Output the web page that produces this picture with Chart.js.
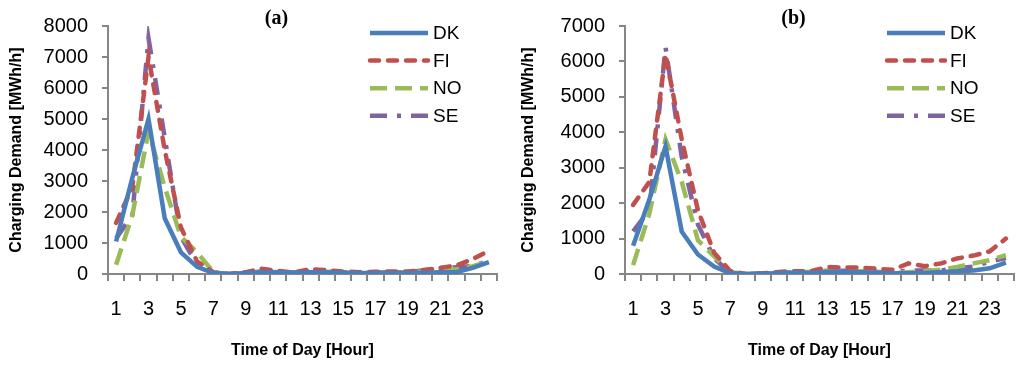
<!DOCTYPE html>
<html>
<head>
<meta charset="utf-8">
<script src="https://cdn.jsdelivr.net/npm/chart.js@4.4.1/dist/chart.umd.min.js"></script>
<style>
  html, body { margin: 0; padding: 0; background: #fff; }
  .wrap { display: flex; width: 1024px; height: 368px; }
  .panel { width: 512px; height: 368px; position: relative; }
</style>
</head>
<body>
<div class="wrap">
  <div class="panel"><canvas id="chart-a" width="512" height="368"></canvas></div>
  <div class="panel"><canvas id="chart-b" width="512" height="368"></canvas></div>
</div>
<script>
/* hourly charging demand, MWh/h */
const HOURS = ["1","2","3","4","5","6","7","8","9","10","11","12",
               "13","14","15","16","17","18","19","20","21","22","23","24"];
const COUNTRIES = ["DK", "FI", "NO", "SE"];

// (a)
const DK_A = [1050, 3100, 5000, 1800, 700, 230, 30, 0, 30, 60, 60, 40, 60, 60, 40, 30, 30, 30, 30, 40, 60, 60, 200, 380];
const FI_A = [1650, 2800, 7000, 4000, 1500, 400, 60, 0, 60, 170, 100, 50, 160, 120, 80, 60, 70, 80, 80, 130, 200, 280, 480, 750];
const NO_A = [300, 1900, 4600, 2800, 1200, 700, 60, 0, 30, 70, 60, 40, 80, 70, 40, 30, 40, 30, 50, 80, 100, 150, 250, 400];
const SE_A = [1150, 1900, 7600, 4400, 1200, 300, 30, 0, 30, 80, 60, 50, 80, 80, 60, 40, 50, 50, 60, 120, 170, 220, 260, 430];

// (b)
const DK_B = [800, 2100, 3600, 1200, 550, 210, 20, 0, 10, 30, 40, 30, 60, 60, 50, 40, 20, 20, 30, 60, 80, 100, 160, 320];
const FI_B = [1950, 2600, 6200, 3800, 1800, 600, 80, 0, 20, 60, 80, 80, 200, 180, 180, 150, 120, 300, 220, 300, 440, 520, 640, 1000];
const NO_B = [250, 1700, 3800, 2600, 950, 500, 50, 0, 20, 40, 50, 60, 100, 100, 80, 60, 30, 50, 80, 120, 200, 300, 390, 530];
const SE_B = [1200, 1800, 6400, 3300, 1400, 450, 20, 0, 20, 30, 40, 50, 80, 90, 80, 60, 50, 100, 100, 100, 160, 210, 350, 450];

const Y_MAX_A = 8000;
const Y_MAX_B = 7000;

/* ── Line styles (Excel-ish) ─────────────────────────── */
const STYLES = {
  DK: { color: "#4a7ebb", dash: [], cap: "butt" },
  FI: { color: "#c0504d", dash: [9, 9], cap: "round" },
  NO: { color: "#9bbb59", dash: [17, 8], cap: "butt" },
  SE: { color: "#8064a2", dash: [17, 10, 4, 10], cap: "butt" },
};

const AXIS_GREY = "#868686";
const SANS = "'Liberation Sans', Arial, sans-serif";

/* ── Title + legend drawn inside the plot ─────────────── */
const overlay = {
  id: "overlay",
  afterDraw(chart, args, opts) {
    const { ctx, chartArea } = chart;
    ctx.save();
    ctx.fillStyle = "#000";
    ctx.font = "bold 20px 'Liberation Serif', serif";
    ctx.textAlign = "center";
    ctx.textBaseline = "middle";
    ctx.fillText(opts.title, (chartArea.left + chartArea.right) / 2 - 26, 19);

    ctx.font = "19px " + SANS;
    ctx.textAlign = "left";
    const x0 = chartArea.right - 127;
    chart.data.datasets.forEach((ds, i) => {
      const y = 33 + i * 27.6;
      ctx.beginPath();
      ctx.lineWidth = ds.borderWidth;
      ctx.strokeStyle = ds.borderColor;
      ctx.lineCap = ds.borderCapStyle;
      ctx.setLineDash(ds.borderDash);
      ctx.moveTo(x0, y);
      ctx.lineTo(x0 + 58, y);
      ctx.stroke();
      ctx.setLineDash([]);
      ctx.fillText(ds.label, x0 + 63, y + 1);
    });
    ctx.restore();
  },
};

function makeChart(canvasId, title, series, yMax, yWidth, padRight) {
  const datasets = COUNTRIES.map((c, i) => ({
    label: c,
    data: series[i],
    borderColor: STYLES[c].color,
    backgroundColor: STYLES[c].color,
    borderDash: STYLES[c].dash,
    borderCapStyle: STYLES[c].cap,
    borderWidth: 4.5,
    pointRadius: 0,
    tension: 0,
    fill: false,
  }));

  return new Chart(document.getElementById(canvasId), {
    type: "line",
    data: { labels: HOURS, datasets },
    options: {
      responsive: false,
      animation: false,
      events: [],
      layout: { padding: { top: 18, right: padRight, bottom: 0, left: 0 } },
      plugins: {
        legend: { display: false },
        tooltip: { enabled: false },
        overlay: { title },
      },
      scales: {
        x: {
          offset: true,
          grid: { offset: true, drawOnChartArea: false, drawTicks: true, tickLength: 7, color: AXIS_GREY, lineWidth: 2 },
          border: { color: AXIS_GREY, width: 2 },
          ticks: {
            autoSkip: false,
            maxRotation: 0,
            padding: 16,
            color: "#000",
            font: { family: SANS, size: 20 },
            callback: (v, i) => (i % 2 === 0 ? HOURS[i] : ""),
          },
          title: {
            display: true,
            text: "Time of Day [Hour]",
            color: "#000",
            font: { family: SANS, size: 16, weight: "bold" },
            padding: { top: 0, bottom: 8 },
          },
          afterFit: (s) => { s.height = 94; },
        },
        y: {
          min: 0,
          max: yMax,
          grid: { drawOnChartArea: false, drawTicks: true, tickLength: 6, color: AXIS_GREY, lineWidth: 2 },
          border: { color: AXIS_GREY, width: 2 },
          ticks: {
            stepSize: 1000,
            padding: 14,
            color: "#000",
            font: { family: SANS, size: 20 },
            callback: (v) => String(v),
          },
          title: {
            display: true,
            text: "Charging Demand [MWh/h]",
            color: "#000",
            font: { family: SANS, size: 16, weight: "bold" },
            padding: { top: 7, bottom: 0 },
          },
          afterFit: (s) => { s.width = yWidth; },
        },
      },
    },
    plugins: [overlay],
  });
}

makeChart("chart-a", "(a)", [DK_A, FI_A, NO_A, SE_A], Y_MAX_A, 108, 15);
makeChart("chart-b", "(b)", [DK_B, FI_B, NO_B, SE_B], Y_MAX_B, 113, 10);
</script>
</body>
</html>
